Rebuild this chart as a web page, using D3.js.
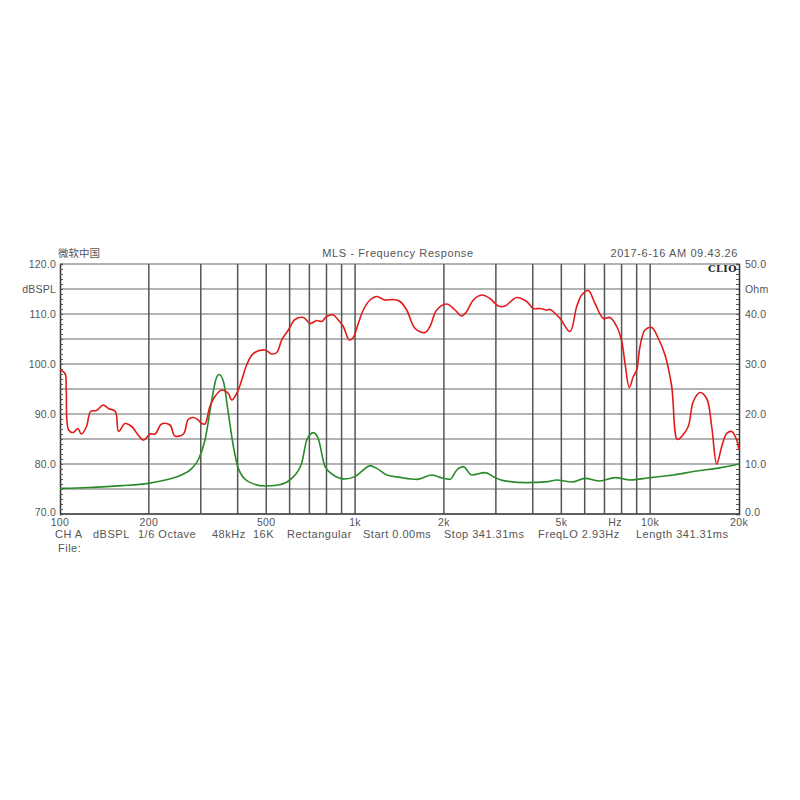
<!DOCTYPE html>
<html><head><meta charset="utf-8">
<script src="https://cdn.jsdelivr.net/npm/d3@7"></script>
<style>body{margin:0;background:#fff}svg{display:block}</style>
</head><body><svg id="c" width="800" height="800"></svg>
<script>
// Red: SPL response (Hz, dBSPL)
const splFreq = [100,104,105,107,111,115,118,123,127,133,140,146,154,158,166,175,184,192,202,210,221,236,245,262,272,283,294,302,310,322,335,353,372,382,397,413,429,452,495,522,543,564,594,626,668,704,741,771,801,844,877,912,956,986,1025,1066,1123,1184,1263,1348,1420,1496,1597,1726,1794,1891,2044,2181,2298,2389,2516,2686,2866,3057,3222,3530,3816,4018,4234,4461,4578,4949,5350,5637,5861,6172,6503,6938,7310,7703,8011,8219,8499,8769,9004,9238,9605,10120,10660,11230,11830,12360,12790,13460,14000,14750,15540,16160,16810,17480,18170,18900,19650,20000];
const splDb = [98.8,98.1,94.8,86.8,86.3,87.1,86.0,87.5,90.5,90.7,91.8,91.1,90.5,86.5,88.1,87.5,85.8,84.8,86.0,86.0,88.0,87.8,85.6,86.0,88.9,89.3,88.8,88.1,88.0,91.5,93.5,94.8,94.1,92.8,94.1,96.8,99.8,102.1,102.8,102.0,102.3,104.8,106.8,108.9,109.3,108.1,108.7,108.5,109.5,109.8,108.8,107.5,104.8,105.3,108.1,110.8,112.8,113.5,112.8,112.9,112.5,110.8,107.1,106.3,107.5,110.8,112.0,110.8,109.6,110.5,112.8,113.8,113.1,111.6,111.6,113.3,112.5,111.1,111.1,110.8,110.9,109.1,106.5,111.5,113.8,114.7,112.1,109.1,109.3,107.5,104.5,100.1,95.3,97.5,98.8,103.5,106.8,107.3,105.1,101.8,95.5,84.9,85.5,87.5,92.5,94.3,93.1,87.5,80.0,83.5,86.1,86.5,84.8,82.8];
// Green: impedance (Hz, Ohm)
const impFreq = [100,125,162,199,233,258,280,294,310,327,337,346,358,372,387,402,435,495,549,610,659,686,722,750,791,844,924,999,1066,1123,1184,1280,1420,1618,1819,1940,2097,2211,2327,2485,2756,2941,3179,3816,4516,4824,5422,6014,6761,7601,8546,9988,11980,14380,16810,20000];
const impOhm = [5.13,5.3,5.67,6.13,6.93,7.8,9.13,10.8,14.8,22.8,26.8,27.9,26.5,20.1,13.5,9.13,6.47,5.6,5.8,7.13,10.13,14.8,16.27,15.1,9.47,7.8,7.0,7.47,8.8,9.67,9.13,7.8,7.33,6.93,7.8,7.33,6.93,8.8,9.47,7.8,8.27,7.47,6.67,6.27,6.47,6.8,6.4,7.13,6.6,7.27,6.8,7.27,7.8,8.6,9.13,10.0];
const freqGrid = [200,300,400,500,600,700,800,900,1000,2000,3000,4000,5000,6000,7000,8000,9000,10000];
const freqLabels = [[100,"100"],[200,"200"],[500,"500"],[1000,"1k"],[2000,"2k"],[5000,"5k"],[7600,"Hz"],[10000,"10k"],[20000,"20k"]];
const dbLabels = [[120,"120.0"],[115,"dBSPL"],[110,"110.0"],[100,"100.0"],[90,"90.0"],[80,"80.0"],[70,"70.0"]];
const ohmLabels = [[50,"50.0"],[45,"Ohm"],[40,"40.0"],[30,"30.0"],[20,"20.0"],[10,"10.0"],[0,"0.0"]];
const footerItems = ["CH A","dBSPL","1/6 Octave","48kHz","16K","Rectangular","Start 0.00ms","Stop 341.31ms","FreqLO 2.93Hz","Length 341.31ms"];
const footerX = [55,93,138,212,253,287,363,444,538,636];

const svg = d3.select("#c");
const L=60,R=739,T=264,B=514;
const FONT = "'Liberation Sans', Arial, sans-serif";
const TXT = "#555";
const x = d3.scaleLog().domain([100,20000]).range([L,R]);
const yL = d3.scaleLinear().domain([70,120]).range([B,T]);
const yR = d3.scaleLinear().domain([0,50]).range([B,T]);

// horizontal grid
svg.append("g").selectAll("line").data(d3.range(70,121,5)).join("line")
  .attr("x1",L).attr("x2",R).attr("y1",d=>yL(d)).attr("y2",d=>yL(d))
  .attr("stroke","#9a9a9a").attr("stroke-width",1.5);
// vertical grid
svg.append("g").selectAll("line").data(freqGrid).join("line")
  .attr("x1",d=>x(d)).attr("x2",d=>x(d)).attr("y1",T).attr("y2",B)
  .attr("stroke","#555").attr("stroke-width",1.5);

// axes
const gL = svg.append("g").attr("transform",`translate(${L},0)`)
  .call(d3.axisRight(yL).tickValues(d3.range(70,121,1)).tickSize(3).tickFormat(""));
const gR = svg.append("g").attr("transform",`translate(${R},0)`)
  .call(d3.axisLeft(yR).tickValues(d3.range(0,51,1)).tickSize(3).tickFormat(""));
[gL,gR].forEach(g=>{g.select(".domain").attr("stroke","#333").attr("stroke-width",1.5);g.selectAll(".tick line").attr("stroke","#555");});
svg.append("line").attr("x1",L).attr("x2",R).attr("y1",B).attr("y2",B).attr("stroke","#444").attr("stroke-width",1.5);

// curves
svg.append("path").datum(impFreq.map((f,i)=>[f,impOhm[i]]))
  .attr("fill","none").attr("stroke","#2a8a2a").attr("stroke-width",1.6)
  .attr("d",d3.line().x(d=>x(d[0])).y(d=>yR(d[1])).curve(d3.curveMonotoneX));
svg.append("path").datum(splFreq.map((f,i)=>[f,splDb[i]]))
  .attr("fill","none").attr("stroke","#e01b1b").attr("stroke-width",1.6)
  .attr("d",d3.line().x(d=>x(d[0])).y(d=>yL(d[1])).curve(d3.curveCatmullRom));

// labels
function t(sel){return sel.style("font-family",FONT).style("fill",TXT);}
t(svg.append("g").selectAll("text").data(dbLabels).join("text")
  .attr("x",L-4).attr("y",d=>yL(d[0])+(d[0]===70?2:4)).attr("text-anchor","end").style("font-size","10.5px").style("letter-spacing","0.2px").text(d=>d[1]));
t(svg.append("g").selectAll("text").data(ohmLabels).join("text")
  .attr("x",R+6).attr("y",d=>yR(d[0])+(d[0]===0?2:4)).style("font-size","10.5px").style("letter-spacing","0.2px").text(d=>d[1]));
t(svg.append("g").selectAll("text").data(freqLabels).join("text")
  .attr("x",d=>x(d[0])).attr("y",B+12).attr("text-anchor","middle").style("font-size","10.5px").style("letter-spacing","0.4px").text(d=>d[1]));

t(svg.append("text").attr("x",58).attr("y",257).style("font-size","10.5px").text("微软中国")).style("font-family","'Noto Sans CJK SC', sans-serif");
t(svg.append("text").attr("x",398).attr("y",257).attr("text-anchor","middle").style("font-size","11px").style("letter-spacing","0.6px").text("MLS - Frequency Response"));
t(svg.append("text").attr("x",738).attr("y",257).attr("text-anchor","end").style("font-size","11px").style("letter-spacing","0.6px").text("2017-6-16 AM 09.43.26"));
svg.append("text").attr("x",737).attr("y",272).attr("text-anchor","end")
  .style("font-size","9.5px").style("font-weight","bold").style("font-family","'DejaVu Serif', serif").style("letter-spacing","0.5px").style("fill","#222").text("CLIO");
t(svg.append("g").selectAll("text").data(footerItems).join("text")
  .attr("x",(d,i)=>footerX[i]).attr("y",538).style("font-size","11px").style("letter-spacing","0.5px").text(d=>d));
t(svg.append("text").attr("x",58).attr("y",552).style("font-size","11px").style("letter-spacing","0.5px").text("File:"));
</script></body></html>
